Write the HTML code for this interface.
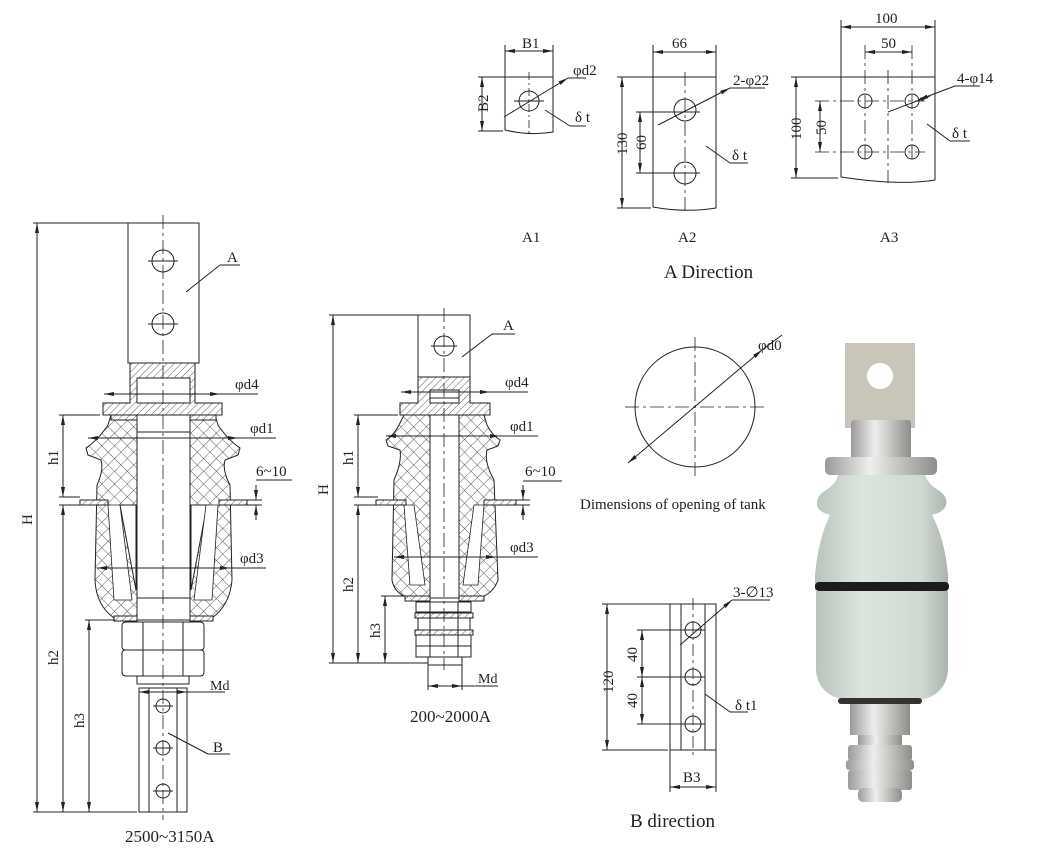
<!DOCTYPE html>
<html><head><meta charset="utf-8"><style>
html,body{margin:0;padding:0;background:#fff;}
svg{display:block;}
text{font-family:"Liberation Serif","DejaVu Serif",serif;fill:#222;}
</style></head><body>
<svg width="1060" height="863" viewBox="0 0 1060 863" xmlns="http://www.w3.org/2000/svg">
<defs>
<pattern id="xh" width="9" height="9" patternUnits="userSpaceOnUse" patternTransform="rotate(45)">
<rect width="9" height="9" fill="#fff"/>
<line x1="0" y1="0" x2="0" y2="9" stroke="#333" stroke-width="0.8"/>
<line x1="0" y1="0" x2="9" y2="0" stroke="#333" stroke-width="0.8"/>
</pattern>
<pattern id="hs" width="5" height="5" patternUnits="userSpaceOnUse" patternTransform="rotate(45)">
<rect width="5" height="5" fill="#fff"/>
<line x1="0" y1="0" x2="0" y2="5" stroke="#333" stroke-width="0.8"/>
</pattern>
<marker id="ar" markerWidth="10" markerHeight="6" refX="10" refY="3" orient="auto-start-reverse" markerUnits="userSpaceOnUse">
<path d="M0,1 L10,3 L0,5 Z" fill="#222"/>
</marker>
<linearGradient id="por" x1="0" x2="1"><stop offset="0" stop-color="#b9c4bd"/><stop offset="0.35" stop-color="#dde5df"/><stop offset="0.8" stop-color="#cfd8d1"/><stop offset="1" stop-color="#aab4ad"/></linearGradient>
<linearGradient id="met" x1="0" x2="1"><stop offset="0" stop-color="#9a9a98"/><stop offset="0.4" stop-color="#eeeeec"/><stop offset="1" stop-color="#8d8d8a"/></linearGradient>
</defs>
<g fill="none" stroke="#222" stroke-width="1">

<!-- ===== LEFT BUSHING 2500~3150A ===== -->
<rect x="128" y="223" width="71" height="140" fill="#fff"/>
<circle cx="163" cy="261" r="11"/><circle cx="163" cy="324" r="11"/>
<line x1="148" y1="261" x2="178" y2="261"/><line x1="148" y1="324" x2="178" y2="324"/>
<!-- insulator -->
<path d="M111,415 L215,415 L218,425 Q228,440 240,448 L238,455 L225,460 Q222,470 230,485 L232,580 Q230,605 212,618 L114,618 Q96,605 95,580 L97,485 Q104,470 101,460 L88,455 L86,448 Q98,440 108,425 Z" fill="url(#xh)"/>
<path d="M120,505 L136,505 L136,590 Z M207,505 L191,505 L191,590 Z" fill="#fff"/>
<path d="M108,505 L120,505 L132,600 L114,600 Z M218,505 L206,505 L194,600 L212,600 Z" fill="#fff" stroke-width="0.8"/>
<rect x="137" y="405" width="53" height="215" fill="#fff"/>
<line x1="137" y1="432" x2="190" y2="432"/><line x1="137" y1="598" x2="190" y2="598"/>
<!-- cap -->
<path d="M130,363 L195,363 L195,403 L222,403 L222,415 L103,415 L103,403 L130,403 Z M137,378 L190,378 L190,403 L137,403 Z" fill="url(#hs)" fill-rule="evenodd"/>
<rect x="111" y="415" width="26" height="5" fill="url(#hs)"/><rect x="190" y="415" width="26" height="5" fill="url(#hs)"/>
<rect x="80" y="500" width="28" height="5" fill="url(#hs)"/><rect x="219" y="500" width="28" height="5" fill="url(#hs)"/>
<rect x="114" y="616" width="23" height="5" fill="url(#hs)"/><rect x="190" y="616" width="23" height="5" fill="url(#hs)"/>
<!-- nuts -->
<path d="M122,626 Q122,622 126,622 L200,622 Q204,622 204,626 L204,647 Q204,650 200,650 L126,650 Q122,650 122,647 Z" fill="#fff"/>
<path d="M122,653 Q122,650 126,650 L200,650 Q204,650 204,653 L204,672 Q204,676 200,676 L126,676 Q122,676 122,672 Z" fill="#fff"/>
<line x1="143" y1="622" x2="143" y2="676"/><line x1="183" y1="622" x2="183" y2="676"/>
<rect x="137" y="676" width="52" height="8" fill="#fff"/>
<rect x="139" y="688" width="48" height="124" fill="#fff"/>
<line x1="149" y1="688" x2="149" y2="812"/><line x1="177" y1="688" x2="177" y2="812"/>
<circle cx="163" cy="706" r="7"/><circle cx="163" cy="748" r="7"/><circle cx="163" cy="791" r="7"/>
<line x1="153" y1="706" x2="173" y2="706"/><line x1="153" y1="748" x2="173" y2="748"/><line x1="153" y1="791" x2="173" y2="791"/>
<line x1="163" y1="215" x2="163" y2="820" stroke-dasharray="14,4,3,4" stroke-width="0.8"/>
<!-- dims left -->
<line x1="33" y1="223" x2="128" y2="223"/><line x1="33" y1="812" x2="137" y2="812"/>
<line x1="37" y1="223" x2="37" y2="812" marker-start="url(#ar)" marker-end="url(#ar)"/>
<line x1="59" y1="415" x2="100" y2="415"/>
<line x1="63" y1="415" x2="63" y2="497" marker-start="url(#ar)" marker-end="url(#ar)"/>
<line x1="59" y1="497" x2="80" y2="497"/><line x1="59" y1="505" x2="80" y2="505"/>
<line x1="63" y1="505" x2="63" y2="812" marker-start="url(#ar)" marker-end="url(#ar)"/>
<line x1="85" y1="620" x2="115" y2="620"/>
<line x1="89" y1="620" x2="89" y2="812" marker-start="url(#ar)" marker-end="url(#ar)"/>
<line x1="104" y1="394" x2="220" y2="394" marker-start="url(#ar)" marker-end="url(#ar)"/><line x1="220" y1="394" x2="258" y2="394"/>
<line x1="88" y1="438" x2="238" y2="438" marker-start="url(#ar)" marker-end="url(#ar)"/><line x1="238" y1="438" x2="276" y2="438"/>
<line x1="97" y1="568" x2="230" y2="568" marker-start="url(#ar)" marker-end="url(#ar)"/><line x1="230" y1="568" x2="266" y2="568"/>
<line x1="256" y1="485" x2="256" y2="500" marker-end="url(#ar)"/><line x1="256" y1="520" x2="256" y2="505" marker-end="url(#ar)"/>
<line x1="256" y1="480" x2="292" y2="480"/>
<line x1="247" y1="500" x2="262" y2="500"/><line x1="247" y1="505" x2="262" y2="505"/>
<line x1="186" y1="292" x2="220" y2="265"/><line x1="220" y1="265" x2="240" y2="265"/>
<line x1="168" y1="733" x2="208" y2="754"/><line x1="208" y1="754" x2="230" y2="754"/>
<line x1="139" y1="692" x2="187" y2="692" marker-start="url(#ar)" marker-end="url(#ar)"/><line x1="187" y1="692" x2="225" y2="692"/>
</g>
<g font-size="15">
<text x="227" y="262">A</text>
<text x="235" y="389">φd4</text>
<text x="250" y="433">φd1</text>
<text x="256" y="476">6~10</text>
<text x="240" y="563">φd3</text>
<text x="210" y="690" font-size="14">Md</text>
<text x="213" y="752">B</text>
<text x="125" y="842" font-size="17">2500~3150A</text>
<text transform="translate(32,525) rotate(-90)">H</text>
<text transform="translate(58,465) rotate(-90)">h1</text>
<text transform="translate(58,665) rotate(-90)">h2</text>
<text transform="translate(84,728) rotate(-90)">h3</text>
</g>

<!-- ===== MIDDLE BUSHING 200~2000A ===== -->
<g fill="none" stroke="#222" stroke-width="1">
<rect x="418" y="315" width="52" height="62" fill="#fff"/>
<circle cx="444" cy="346" r="10"/><line x1="431" y1="346" x2="457" y2="346"/>
<path d="M404,415 L484,415 L487,425 Q492,435 500,440 L498,446 L487,450 Q484,462 494,480 L498,580 Q494,592 482,597 L406,597 Q394,592 392,580 L394,480 Q402,462 400,450 L388,446 L386,440 Q394,435 399,425 Z" fill="url(#xh)"/>
<path d="M404,505 L414,505 L425,585 L410,585 Z M484,505 L474,505 L463,585 L478,585 Z" fill="#fff" stroke-width="0.8"/>
<rect x="430" y="398" width="29" height="200" fill="#fff"/>
<path d="M418,377 L470,377 L470,403 L490,403 L490,415 L400,415 L400,403 L418,403 Z M430,390 L459,390 L459,403 L430,403 Z" fill="url(#hs)" fill-rule="evenodd"/>
<rect x="376" y="500" width="30" height="5" fill="url(#hs)"/><rect x="484" y="500" width="32" height="5" fill="url(#hs)"/>
<rect x="405" y="596" width="25" height="5" fill="url(#hs)"/><rect x="459" y="596" width="25" height="5" fill="url(#hs)"/>
<path d="M416,602 L471,602 L471,612 L416,612 Z" fill="#fff"/>
<rect x="415" y="613" width="58" height="5" fill="url(#hs)"/>
<path d="M418,618 L470,618 L470,630 L418,630 Z" fill="#fff"/>
<rect x="415" y="630" width="58" height="5" fill="url(#hs)"/>
<path d="M416,635 L471,635 L471,646 L416,646 Z M416,646 L471,646 L471,657 L416,657 Z" fill="#fff"/>
<line x1="430" y1="602" x2="430" y2="657"/><line x1="458" y1="602" x2="458" y2="657"/>
<rect x="428" y="657" width="34" height="8" fill="#fff"/>
<line x1="444" y1="308" x2="444" y2="670" stroke-dasharray="14,4,3,4" stroke-width="0.8"/>
<line x1="329" y1="315" x2="418" y2="315"/><line x1="329" y1="663" x2="428" y2="663"/>
<line x1="333" y1="315" x2="333" y2="663" marker-start="url(#ar)" marker-end="url(#ar)"/>
<line x1="354" y1="415" x2="398" y2="415"/>
<line x1="358" y1="415" x2="358" y2="497" marker-start="url(#ar)" marker-end="url(#ar)"/>
<line x1="354" y1="497" x2="378" y2="497"/><line x1="354" y1="505" x2="378" y2="505"/>
<line x1="358" y1="505" x2="358" y2="663" marker-start="url(#ar)" marker-end="url(#ar)"/>
<line x1="381" y1="596" x2="410" y2="596"/>
<line x1="385" y1="596" x2="385" y2="663" marker-start="url(#ar)" marker-end="url(#ar)"/>
<line x1="401" y1="392" x2="490" y2="392" marker-start="url(#ar)" marker-end="url(#ar)"/><line x1="490" y1="392" x2="528" y2="392"/>
<line x1="386" y1="436" x2="500" y2="436" marker-start="url(#ar)" marker-end="url(#ar)"/><line x1="500" y1="436" x2="538" y2="436"/>
<line x1="394" y1="557" x2="496" y2="557" marker-start="url(#ar)" marker-end="url(#ar)"/><line x1="496" y1="557" x2="538" y2="557"/>
<line x1="523" y1="485" x2="523" y2="500" marker-end="url(#ar)"/><line x1="523" y1="520" x2="523" y2="505" marker-end="url(#ar)"/>
<line x1="523" y1="481" x2="562" y2="481"/>
<line x1="516" y1="500" x2="530" y2="500"/><line x1="516" y1="505" x2="530" y2="505"/>
<line x1="462" y1="357" x2="492" y2="334"/><line x1="492" y1="334" x2="515" y2="334"/>
<line x1="428" y1="663" x2="428" y2="690"/><line x1="462" y1="663" x2="462" y2="690"/>
<line x1="428" y1="686" x2="462" y2="686" marker-start="url(#ar)" marker-end="url(#ar)"/><line x1="462" y1="686" x2="498" y2="686"/>
</g>
<g font-size="15">
<text x="503" y="330">A</text>
<text x="505" y="387">φd4</text>
<text x="510" y="431">φd1</text>
<text x="525" y="476">6~10</text>
<text x="510" y="552">φd3</text>
<text x="478" y="683" font-size="14">Md</text>
<text x="410" y="722" font-size="17">200~2000A</text>
<text transform="translate(328,495) rotate(-90)">H</text>
<text transform="translate(353,465) rotate(-90)">h1</text>
<text transform="translate(353,592) rotate(-90)">h2</text>
<text transform="translate(380,638) rotate(-90)">h3</text>
</g>

<!-- ===== A DIRECTION ===== -->
<g fill="none" stroke="#222" stroke-width="1">
<!-- A1 -->
<path d="M505,77 L553,77 L553,132 Q530,136 505,130 Z"/>
<circle cx="529" cy="101" r="10"/>
<line x1="529" y1="72" x2="529" y2="136" stroke-dasharray="8,3,2,3" stroke-width="0.8"/>
<line x1="514" y1="101" x2="544" y2="101"/>
<line x1="505" y1="45" x2="505" y2="77"/><line x1="553" y1="45" x2="553" y2="77"/>
<line x1="505" y1="51" x2="553" y2="51" marker-start="url(#ar)" marker-end="url(#ar)"/>
<line x1="478" y1="77" x2="505" y2="77"/><line x1="478" y1="131" x2="503" y2="131"/>
<line x1="482" y1="77" x2="482" y2="131" marker-start="url(#ar)" marker-end="url(#ar)"/>
<line x1="504" y1="117" x2="568" y2="78" marker-end="url(#ar)"/><line x1="568" y1="78" x2="586" y2="78"/>
<line x1="545" y1="110" x2="570" y2="126"/><line x1="570" y1="126" x2="586" y2="126"/>
<!-- A2 -->
<path d="M653,77 L716,77 L716,208 Q685,213 653,207 Z"/>
<circle cx="685" cy="110" r="11"/><circle cx="685" cy="173" r="11"/>
<line x1="685" y1="72" x2="685" y2="212" stroke-dasharray="14,4,3,4" stroke-width="0.8"/>
<line x1="636" y1="112" x2="700" y2="112"/><line x1="636" y1="173" x2="700" y2="173"/>
<line x1="653" y1="45" x2="653" y2="77"/><line x1="716" y1="45" x2="716" y2="77"/>
<line x1="653" y1="52" x2="716" y2="52" marker-start="url(#ar)" marker-end="url(#ar)"/>
<line x1="617" y1="77" x2="653" y2="77"/><line x1="617" y1="208" x2="651" y2="208"/>
<line x1="622" y1="77" x2="622" y2="208" marker-start="url(#ar)" marker-end="url(#ar)"/>
<line x1="640" y1="112" x2="640" y2="173" marker-start="url(#ar)" marker-end="url(#ar)"/>
<line x1="658" y1="125" x2="730" y2="88" marker-end="url(#ar)"/><line x1="730" y1="88" x2="765" y2="88"/>
<line x1="706" y1="146" x2="730" y2="163"/><line x1="730" y1="163" x2="748" y2="163"/>
<!-- A3 -->
<path d="M841,77 L935,77 L935,180 Q900,186 841,177 Z"/>
<circle cx="865" cy="101" r="7"/><circle cx="912" cy="101" r="7"/><circle cx="865" cy="152" r="7"/><circle cx="912" cy="152" r="7"/>
<line x1="888" y1="70" x2="888" y2="183" stroke-dasharray="14,4,3,4" stroke-width="0.8"/>
<line x1="865" y1="45" x2="865" y2="163" stroke-dasharray="14,4,3,4" stroke-width="0.8"/>
<line x1="912" y1="45" x2="912" y2="163" stroke-dasharray="14,4,3,4" stroke-width="0.8"/>
<line x1="815" y1="101" x2="925" y2="101" stroke-dasharray="14,4,3,4" stroke-width="0.8"/>
<line x1="815" y1="152" x2="925" y2="152" stroke-dasharray="14,4,3,4" stroke-width="0.8"/>
<line x1="841" y1="20" x2="841" y2="77"/><line x1="935" y1="20" x2="935" y2="77"/>
<line x1="841" y1="27" x2="935" y2="27" marker-start="url(#ar)" marker-end="url(#ar)"/>
<line x1="865" y1="52" x2="912" y2="52" marker-start="url(#ar)" marker-end="url(#ar)"/>
<line x1="791" y1="77" x2="841" y2="77"/><line x1="791" y1="178" x2="838" y2="178"/>
<line x1="796" y1="77" x2="796" y2="178" marker-start="url(#ar)" marker-end="url(#ar)"/>
<line x1="820" y1="101" x2="820" y2="152" marker-start="url(#ar)" marker-end="url(#ar)"/>
<line x1="888" y1="112" x2="930" y2="96" marker-end="url(#ar)"/><line x1="955" y1="86" x2="980" y2="86"/><line x1="955" y1="86" x2="918" y2="100" marker-end="url(#ar)"/>
<line x1="927" y1="124" x2="950" y2="141"/><line x1="950" y1="141" x2="970" y2="141"/>
</g>
<g font-size="15">
<text x="522" y="48">B1</text>
<text transform="translate(488,112) rotate(-90)">B2</text>
<text x="573" y="75">φd2</text>
<text x="575" y="122">δ t</text>
<text x="672" y="48">66</text>
<text transform="translate(627,155) rotate(-90)">130</text>
<text transform="translate(646,150) rotate(-90)">60</text>
<text x="733" y="85">2-φ22</text>
<text x="732" y="160">δ t</text>
<text x="875" y="23">100</text>
<text x="881" y="48">50</text>
<text transform="translate(801,140) rotate(-90)">100</text>
<text transform="translate(826,135) rotate(-90)">50</text>
<text x="957" y="83">4-φ14</text>
<text x="952" y="138">δ t</text>
<text x="522" y="242">A1</text>
<text x="678" y="242">A2</text>
<text x="880" y="242">A3</text>
<text x="664" y="278" font-size="19">A Direction</text>
</g>

<!-- ===== TANK OPENING ===== -->
<g fill="none" stroke="#222" stroke-width="1">
<circle cx="695" cy="407" r="60"/>
<line x1="625" y1="407" x2="765" y2="407" stroke-dasharray="14,4,3,4" stroke-width="0.8"/>
<line x1="695" y1="337" x2="695" y2="477" stroke-dasharray="14,4,3,4" stroke-width="0.8"/>
<line x1="628" y1="463" x2="762" y2="350" marker-start="url(#ar)" marker-end="url(#ar)"/><line x1="762" y1="350" x2="782" y2="335"/>
</g>
<g font-size="15">
<text x="758" y="350">φd0</text>
<text x="580" y="509">Dimensions of opening of tank</text>
</g>

<!-- ===== B DIRECTION ===== -->
<g fill="none" stroke="#222" stroke-width="1">
<rect x="670" y="604" width="46" height="146"/>
<line x1="681" y1="604" x2="681" y2="750"/><line x1="705" y1="604" x2="705" y2="750"/>
<circle cx="693" cy="630" r="8"/><circle cx="693" cy="677" r="8"/><circle cx="693" cy="724" r="8"/>
<line x1="693" y1="598" x2="693" y2="756" stroke-dasharray="12,4,3,4" stroke-width="0.8"/>
<line x1="637" y1="630" x2="705" y2="630"/><line x1="637" y1="677" x2="705" y2="677"/><line x1="637" y1="724" x2="705" y2="724"/>
<line x1="602" y1="604" x2="670" y2="604"/><line x1="602" y1="750" x2="668" y2="750"/>
<line x1="607" y1="604" x2="607" y2="750" marker-start="url(#ar)" marker-end="url(#ar)"/>
<line x1="642" y1="630" x2="642" y2="677" marker-start="url(#ar)" marker-end="url(#ar)"/>
<line x1="642" y1="677" x2="642" y2="724" marker-start="url(#ar)" marker-end="url(#ar)"/>
<line x1="680" y1="645" x2="732" y2="600" marker-end="url(#ar)"/><line x1="732" y1="600" x2="770" y2="600"/>
<line x1="705" y1="694" x2="730" y2="712"/><line x1="730" y1="712" x2="748" y2="712"/>
<line x1="670" y1="750" x2="670" y2="792"/><line x1="716" y1="750" x2="716" y2="792"/>
<line x1="670" y1="787" x2="716" y2="787" marker-start="url(#ar)" marker-end="url(#ar)"/>
</g>
<g font-size="15">
<text x="733" y="597">3-∅13</text>
<text transform="translate(613,693) rotate(-90)">120</text>
<text transform="translate(637,662) rotate(-90)">40</text>
<text transform="translate(637,708) rotate(-90)">40</text>
<text x="735" y="710">δ t1</text>
<text x="683" y="782">B3</text>
<text x="630" y="827" font-size="19">B direction</text>
</g>

<!-- ===== PHOTO ===== -->
<g>
<rect x="845" y="343" width="70" height="85" fill="#c9c5b8"/>
<circle cx="880" cy="376" r="13" fill="#fff"/>
<rect x="851" y="420" width="60" height="40" rx="3" fill="url(#met)"/>
<rect x="825" y="457" width="112" height="18" rx="5" fill="url(#met)"/>
<path d="M838,475 L925,475 Q928,484 938,490 Q948,496 946,505 Q944,512 932,515 Q945,540 948,575 L948,590 L815,590 L815,575 Q818,540 830,515 Q818,512 817,505 Q816,496 826,490 Q836,484 838,475 Z" fill="url(#por)"/>
<rect x="815" y="582" width="134" height="9" rx="4" fill="#1c1c1c"/>
<path d="M816,591 L948,591 L948,670 Q946,695 920,700 L845,700 Q818,695 816,670 Z" fill="url(#por)"/>
<rect x="838" y="698" width="84" height="6" rx="3" fill="#333"/>
<path d="M850,704 L910,704 L910,735 L850,735 Z" fill="url(#met)"/>
<rect x="858" y="735" width="44" height="12" fill="url(#met)"/>
<rect x="848" y="745" width="64" height="16" rx="3" fill="url(#met)"/>
<rect x="846" y="760" width="68" height="10" rx="3" fill="url(#met)"/>
<rect x="848" y="770" width="64" height="20" rx="3" fill="url(#met)"/>
<rect x="858" y="788" width="44" height="14" rx="5" fill="url(#met)"/>
</g>
</svg>
</body></html>
